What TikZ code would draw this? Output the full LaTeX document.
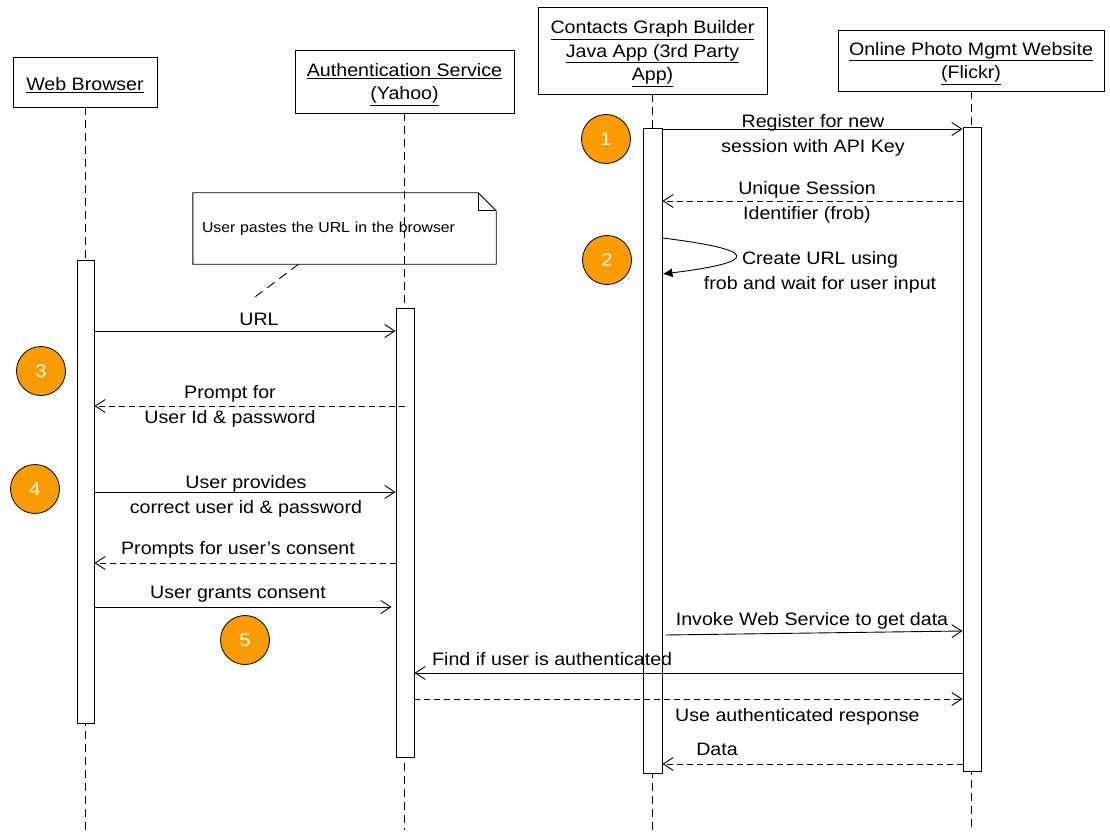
\documentclass[tikz,border=0pt]{standalone}
\usepackage{fontspec}
\setmainfont{Liberation Sans}[FakeStretch=1.09]
\usetikzlibrary{arrows.meta}
\definecolor{badgeorange}{RGB}{250,155,0}
\newcommand{\hdrstrut}{\rule{0pt}{19pt}}
\tikzset{
  centered/.style = { align=center, anchor=center },
     actor/.style = { draw, line width=0.9pt, centered, inner sep=0pt, font=\fontsize{18}{23.5}\selectfont },
       bar/.style = { draw, fill=white, line width=0.9pt, inner sep=0pt, anchor=north },
  lifeline/.style = { line width=0.8pt, dash pattern=on 8pt off 5pt },
   msgtext/.style = { centered, inner sep=0pt, font=\fontsize{18}{25}\selectfont },
       msg/.style = { line width=0.9pt, -{Straight Barb[length=10pt,width=13pt]} },
     reply/.style = { msg, dash pattern=on 6pt off 4pt },
     badge/.style = { circle, draw=black, line width=0.8pt, fill=badgeorange, text=white, minimum size=49pt, inner sep=0pt, font=\fontsize{18.5}{18.5}\selectfont },
   notebox/.style = { inner xsep=9pt, inner ysep=0pt, text width=285pt, minimum height=71pt, align=left, font=\fontsize{14.5}{17}\selectfont }
}

\begin{document}
\begin{tikzpicture}[x=1pt, y=-1pt]
  \useasboundingbox (0,0) rectangle (1110,834);

  % participants
  \node[actor, minimum width=144pt, minimum height=50pt] (web) at (85,82) {\hdrstrut\underline{Web Browser}};
  \node[actor, minimum width=219pt, minimum height=63pt] (auth) at (404.5,81.5) {\hdrstrut\underline{Authentication Service}\\\underline{(Yahoo)}};
  \node[actor, minimum width=229pt, minimum height=87pt] (java) at (652.5,50.5) {\hdrstrut\underline{Contacts Graph Builder}\\\underline{Java App (3rd Party}\\\underline{App)}};
  \node[actor, minimum width=266pt, minimum height=61pt] (flickr) at (971,60.5) {\hdrstrut\underline{Online Photo Mgmt Website}\\\underline{(Flickr)}};

  \draw [lifeline] (web.south) -- (web.south |- 0,830);
  \draw [lifeline] (auth.south) -- (auth.south |- 0,830);
  \draw [lifeline] (java.south) -- (java.south |- 0,830);
  \draw [lifeline] (flickr.south) -- (flickr.south |- 0,830);

  % activation bars
  \node[bar, minimum width=17pt, minimum height=463pt] (wbar) at (85.5,260) {};
  \node[bar, minimum width=18pt, minimum height=449pt] (abar) at (405,308) {};
  \node[bar, minimum width=19pt, minimum height=645pt] (jbar) at (652.5,128) {};
  \node[bar, minimum width=18pt, minimum height=644pt] (fbar) at (972,127) {};

  % note
  \node[notebox] (note) at (344.5,228.5) {User pastes the URL in the browser};
  \draw [line width=0.9pt] (note.north west) -- ([xshift=-18pt]note.north east)
    -- ([yshift=-18pt]note.north east) -- (note.south east) -- (note.south west) -- cycle;
  \draw [line width=0.9pt] ([xshift=-18pt]note.north east) |- ([yshift=-18pt]note.north east);
  \coordinate (pin) at (255,297);
  \draw [line width=0.9pt, dash pattern=on 9pt off 6pt] ([xshift=-46pt]note.south) -- (pin);

  % messages
  \draw [msg]   (jbar.east |- 0,129) -- (fbar.west |- 0,129);
  \draw [reply] (fbar.west |- 0,201) -- (jbar.east |- 0,201);
  \draw [line width=0.9pt, -{Latex[length=10pt,width=9pt]}]
    (jbar.east |- 0,238) .. controls (760,250) and (760,262) .. (jbar.east |- 0,274);
  \draw [msg]   (wbar.east |- 0,331) -- (abar.west |- 0,331);
  \draw [reply] (abar.center |- 0,406) -- (wbar.east |- 0,406);
  \draw [msg]   (wbar.east |- 0,492) -- (abar.west |- 0,492);
  \draw [reply] (abar.west |- 0,563) -- (wbar.east |- 0,563);
  \draw [msg]   (wbar.east |- 0,607) -- ([xshift=-4pt]abar.west |- 0,607);
  \draw [msg]   ([xshift=3pt]jbar.east |- 0,635) -- (fbar.west |- 0,631);
  \draw [msg]   (fbar.west |- 0,673) -- (abar.east |- 0,673);
  \draw [reply] (abar.east |- 0,699) -- (fbar.west |- 0,699);
  \draw [reply] (fbar.west |- 0,764) -- (jbar.east |- 0,764);

  % message texts
  \node[msgtext] (t1) at (813,135) {Register for new\\session with API Key};
  \node[msgtext] (t2) at (807,202) {Unique Session\\Identifier (frob)};
  \node[msgtext] (t3) at (820,272) {Create URL using\\frob and wait for user input};
  \node[msgtext] (t4) at (259,319) {URL};
  \node[msgtext] (t5) at (230,406.5) {Prompt for\\User Id \& password};
  \node[msgtext] (t6) at (246,496) {User provides\\correct user id \& password};
  \node[msgtext] (t7) at (238,550) {Prompts for user’s consent};
  \node[msgtext] (t8) at (238,594) {User grants consent};
  \node[msgtext] (t9) at (812,621) {Invoke Web Service to get data};
  \node[msgtext, anchor=west] (t10) at (432,659) {Find if user is authenticated};
  \node[msgtext, anchor=west] (t11) at (675,717) {Use authenticated response};
  \node[msgtext] (t12) at (717,749) {Data};

  % steps
  \node[badge] (b1) at (606,139) {1};
  \node[badge] (b2) at (607,260) {2};
  \node[badge] (b3) at (41,371) {3};
  \node[badge] (b4) at (35,489) {4};
  \node[badge] (b5) at (245,640) {5};
\end{tikzpicture}
\end{document}
